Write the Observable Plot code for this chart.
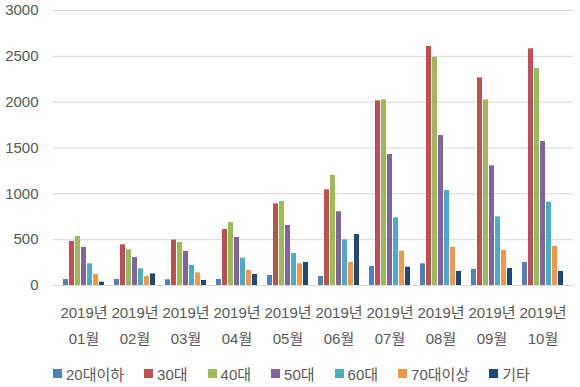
<!DOCTYPE html>
<html>
<head>
<meta charset="utf-8">
<script src="https://cdn.jsdelivr.net/npm/d3@7"></script>
<script src="https://cdn.jsdelivr.net/npm/@observablehq/plot@0.6"></script>
<style>
  html, body { margin: 0; padding: 0; background: #fff; }
  #chart { width: 580px; font-family: "Liberation Sans", "Noto Sans CJK KR", sans-serif; }
  #area { position: relative; width: 580px; height: 355px; }
  #area > svg { position: absolute; left: 0; top: 0; }
  .lg-swatches { font-family: "Liberation Sans", "Noto Sans CJK KR", sans-serif !important; font-size: 15px !important; color: #595959 !important; margin: 8px 0 0 53px !important; min-height: 20px; }
  .lg-swatch { margin-right: 20px !important; }
  .lg-swatch > svg { margin-right: 4px !important; }
</style>
</head>
<body>
<div id="chart"><div id="area"></div></div>
<script>
const months = ["01월","02월","03월","04월","05월","06월","07월","08월","09월","10월"];
const series = ["20대이하","30대","40대","50대","60대","70대이상","기타"];
const colors = ["#4F81BD","#C0504D","#9BBB59","#8064A2","#4BACC6","#F79646","#1F497D"];
const v20 = [65, 65, 62, 65, 109, 98, 207, 236, 175, 251];
const v30 = [480, 444, 495, 611, 891, 1044, 2014, 2607, 2265, 2582];
const v40 = [535, 389, 469, 687, 916, 1200, 2025, 2491, 2025, 2367];
const v50 = [415, 305, 371, 524, 655, 804, 1429, 1636, 1305, 1571];
const v60 = [236, 182, 218, 298, 349, 498, 738, 1036, 749, 909];
const v70 = [120, 98, 138, 164, 236, 251, 375, 415, 382, 425];
const vEtc = [36, 127, 55, 120, 251, 556, 200, 153, 185, 153];
const yTicks = [0, 500, 1000, 1500, 2000, 2500, 3000];

const valueLists = [v20, v30, v40, v50, v60, v70, vEtc];
const data = [];
months.forEach((m, i) => {
  series.forEach((s, j) => data.push({month: m, series: s, value: valueLists[j][i]}));
});

const font = "Liberation Sans, Noto Sans CJK KR, sans-serif";
const frame = {width: 580, height: 355, marginLeft: 53, marginRight: 7, marginTop: 10, marginBottom: 70};

// background: gridlines and y axis
const back = Plot.plot({
  ...frame,
  style: {fontFamily: font, fontSize: "15px", color: "#595959", background: "#fff"},
  y: {domain: [0, 3000], axis: null, label: null},
  marks: [
    Plot.ruleY(yTicks, {stroke: "#d9d9d9", strokeWidth: 1}),
    Plot.axisY({ticks: yTicks, tickSize: 0, tickPadding: 15, fontSize: 15, fill: "#595959", label: null, tickFormat: d => String(d)})
  ]
});

// foreground: grouped bars and month labels
const front = Plot.plot({
  ...frame,
  style: {fontFamily: font, fontSize: "15px", color: "#595959", background: "transparent"},
  fx: {domain: months, paddingInner: 0.16, paddingOuter: 0.1, axis: null, label: null},
  x: {domain: series, padding: 0.15, axis: null, label: null},
  y: {domain: [0, 3000], axis: null, label: null},
  color: {domain: series, range: colors},
  marks: [
    Plot.barY(data, {fx: "month", x: "series", y: "value", fill: "series"}),
    Plot.axisFx({anchor: "bottom", tickSize: 0, tickPadding: 14, fontSize: 15, fill: "#595959", lineHeight: 1.75, label: null, tickFormat: d => "2019년\n" + d})
  ]
});

const legend = front.legend("color", {legend: "swatches", swatchSize: 9, className: "lg"});
const area = document.getElementById("area");
area.appendChild(back);
area.appendChild(front);
document.getElementById("chart").appendChild(legend);
</script>
</body>
</html>
